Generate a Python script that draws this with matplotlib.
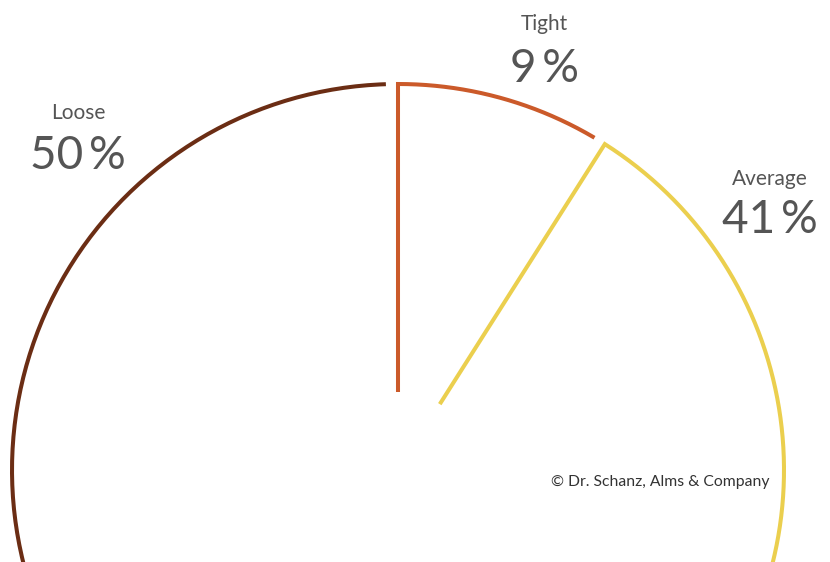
import numpy as np
import matplotlib
matplotlib.use("Agg")
import matplotlib.pyplot as plt

categories = ["Tight", "Average", "Loose"]
values = [9, 41, 50]
pct_labels = ["9\u2009%", "41\u2009%", "50\u2009%"]
colors = ["#CB5A2A", "#EBCF4E", "#6B2D14"]

fig = plt.figure(figsize=(8.30, 5.62), dpi=100)
ax = fig.add_axes([0, 0, 1, 1])
ax.set_xlim(0, 830)
ax.set_ylim(562, 0)
ax.axis("off")

cx, cy, r, r_in = 398, 470, 386, 78
gap = 1.8  # degrees

def pt(ang, rad):
    a = np.deg2rad(ang)
    return cx + rad * np.sin(a), cy - rad * np.cos(a)

start = 0.0
for cat, v, c in zip(categories, values, colors):
    end = start + v / 100 * 360
    angs = np.linspace(start, end - gap, 200)
    xs = [pt(a, r)[0] for a in angs]
    ys = [pt(a, r)[1] for a in angs]
    if start < 180:
        xs = [pt(start, r_in)[0]] + xs
        ys = [pt(start, r_in)[1]] + ys
    ax.plot(xs, ys, color=c, lw=2.9, solid_joinstyle="miter",
            solid_capstyle="butt")
    start = end

label_pos = {"Tight": (544, 30, 82), "Average": (770, 185, 233), "Loose": (78, 119, 169)}
txt = "#555555"
for cat, pl in zip(categories, pct_labels):
    x, y1, y2 = label_pos[cat]
    ax.text(x, y1, cat, ha="center", va="baseline", fontsize=15,
            family=["Lato", "DejaVu Sans"], fontweight="normal", color=txt)
    ax.text(x, y2, pl, ha="center", va="baseline", fontsize=33,
            family=["Lato", "DejaVu Sans"], fontweight="normal", color=txt)

ax.text(769, 486, "© Dr. Schanz, Alms & Company", ha="right", va="baseline",
        fontsize=11.3, family="Lato", color="#333333")

fig.savefig("out.png", dpi=100)
